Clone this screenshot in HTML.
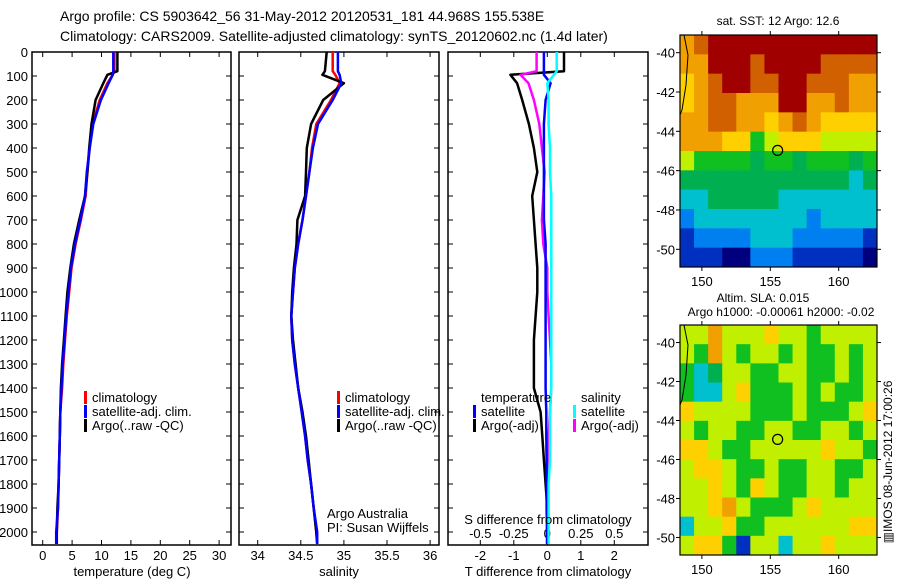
<!DOCTYPE html>
<html><head><meta charset="utf-8"><style>
body{margin:0;background:#fff}
svg{display:block;font-family:"Liberation Sans",sans-serif}
</style></head><body>
<svg id="c" width="900" height="580" xmlns="http://www.w3.org/2000/svg">
<text x="60" y="21" font-size="14">Argo profile: CS 5903642_56 31-May-2012 20120531_181 44.968S 155.538E</text>
<text x="60" y="41" font-size="14">Climatology: CARS2009. Satellite-adjusted climatology: synTS_20120602.nc (1.4d later)</text>
<g id="g"></g>
</svg>
<script>
// ---- data ----
const depthTicks=[0,100,200,300,400,500,600,700,800,900,1000,1100,1200,1300,1400,1500,1600,1700,1800,1900,2000];
const tTicks=[0,5,10,15,20,25,30];
const sTicks=[34,34.5,35,35.5,36];
const dTTicks=[-2,-1,0,1,2];
const dSTicks=[-0.5,-0.25,0,0.25,0.5];
const dSTickLabels=["-0.5","-0.25","0","0.25","0.5"];
const depths=[0,80,95,130,200,300,400,500,600,700,800,900,1000,1100,1200,1300,1400,1500,1600,1700,1800,1900,2000,2050];
const tempArgo=[12.7,12.7,11,10.3,9,8.3,7.9,7.6,7.2,6.2,5.3,4.7,4.2,3.9,3.6,3.3,3.1,3.0,2.9,2.8,2.7,2.5,2.4,2.4];
const tempClim=[12.2,12.2,11.9,11,9.7,8.5,8,7.6,7.3,6.5,5.6,4.9,4.5,4.1,3.8,3.5,3.3,3.0,2.9,2.8,2.7,2.6,2.4,2.3];
const tempSat=[12.0,12.0,11.9,11.2,9.9,8.6,8,7.5,7.2,6.4,5.5,4.8,4.4,4.0,3.7,3.4,3.2,3.0,2.9,2.8,2.7,2.6,2.3,2.3];
const salArgo=[34.80,34.78,34.75,35.0,34.76,34.62,34.57,34.56,34.55,34.46,34.45,34.42,34.40,34.39,34.41,34.44,34.47,34.52,34.56,34.59,34.62,34.65,34.68,34.69];
const salClim=[34.87,34.87,34.90,34.95,34.85,34.68,34.63,34.60,34.56,34.52,34.47,34.43,34.41,34.39,34.40,34.43,34.47,34.51,34.55,34.58,34.62,34.65,34.68,34.69];
const salSat=[34.93,34.93,34.95,34.97,34.87,34.70,34.64,34.60,34.56,34.52,34.47,34.43,34.41,34.39,34.40,34.43,34.47,34.51,34.55,34.58,34.62,34.65,34.69,34.69];
const dTArgo=[0.5,0.5,-1.1,-0.9,-0.75,-0.55,-0.4,-0.3,-0.45,-0.4,-0.35,-0.3,-0.3,-0.35,-0.4,-0.4,-0.4,-0.2,-0.15,-0.1,-0.05,0,0,0];
const dTSat=[-0.1,-0.1,-0.1,0.1,-0.05,-0.1,-0.1,-0.1,-0.1,-0.1,-0.05,-0.05,-0.05,-0.05,-0.05,-0.05,-0.05,-0.03,-0.03,-0.02,-0.02,-0.02,-0.01,-0.01];
const dSArgo=[-0.08,-0.08,-0.2,-0.14,-0.1,-0.06,-0.04,-0.02,-0.03,-0.04,-0.03,0,0,0.01,0.02,0.03,0.03,0.02,0.01,0.01,0,0,0,0];
const dSSat=[0.07,0.07,0.05,0.0,0.01,0.01,0.02,0.02,0.03,0.03,0.03,0.03,0.03,0.03,0.03,0.03,0.03,0.02,0.02,0.02,0.01,0.01,0.01,0.01];
const lonTicks=[150,155,160];
const latTicks=[-40,-42,-44,-46,-48,-50];
const sstGrid=[
[8,9,10,10,10,10,10,10,10,10,10,10,10,10],
[8,8,10,10,10,9,10,10,10,10,9,9,9,9],
[7,8,9,10,10,9,9,10,10,9,9,9,8,8],
[7,8,9,9,8,8,8,10,10,8,8,9,8,8],
[8,8,9,9,8,8,7,8,9,8,7,7,7,7],
[8,8,8,7,7,5,6,7,7,7,6,6,6,6],
[6,5,5,5,5,4,5,5,4,5,5,5,4,5],
[4,4,4,4,4,4,4,4,4,4,4,4,3,4],
[3,3,4,4,4,4,4,3,3,3,3,3,3,3],
[2,3,3,3,3,3,3,3,3,2,3,3,3,3],
[1,2,2,2,2,3,3,3,2,2,2,2,2,1],
[1,1,1,0,0,2,2,2,1,1,1,1,1,0]];
const slaGrid=[
[6,6,8,6,6,6,7,6,6,5,6,6,6,6],
[6,5,8,6,5,6,6,5,6,5,5,6,5,6],
[5,3,4,6,6,5,5,6,6,5,5,6,5,6],
[5,3,3,6,7,5,5,5,6,5,6,5,5,6],
[7,6,6,6,6,5,5,5,6,5,5,5,6,7],
[6,5,6,6,5,5,6,6,5,5,6,6,5,6],
[7,7,6,5,5,6,6,6,6,6,7,6,6,5],
[6,7,7,6,5,5,6,5,5,6,6,5,5,6],
[6,6,7,6,5,7,6,5,5,6,6,5,6,6],
[6,6,7,8,6,5,5,5,6,7,6,6,6,6],
[3,6,6,7,5,5,6,6,6,6,6,6,7,7],
[6,7,7,5,1,6,6,3,6,6,7,6,6,6]];
const palette=["#00007f","#0030c0","#0080f0","#00c0d0","#00b050","#10c020","#c0f000","#ffd000","#f0a000","#d06000","#a00000"];

// ---- drawing ----
const NS="http://www.w3.org/2000/svg";const G=document.getElementById('g');
function mk(t,a,p){const e=document.createElementNS(NS,t);for(const k in a)e.setAttribute(k,a[k]);(p||G).appendChild(e);return e;}
const yD=d=>52+d*0.24;
const panels=[
 {x0:32,x1:231,xs:v=>42.7+v*5.88,name:'temperature'},
 {x0:239,x1:439,xs:v=>257.7+(v-34)*86.2,name:'salinity'},
 {x0:448,x1:648,xs:v=>547.3+v*33.5,name:'difference'}];
const xS=v=>547.3+v*134;
panels.forEach((p,i)=>{
 const r=mk('rect',{x:p.x0,y:52,width:p.x1-p.x0,height:493,fill:'none',stroke:'#000','stroke-width':1.5});
 
 
 depthTicks.forEach(d=>{
  mk('line',{x1:p.x0,x2:p.x0+5,y1:yD(d),y2:yD(d),stroke:'#000'});
  mk('line',{x1:p.x1,x2:p.x1-5,y1:yD(d),y2:yD(d),stroke:'#000'});
 });
});
depthTicks.forEach(d=>{const t=mk('text',{x:28,y:yD(d)+5,'font-size':13,'text-anchor':'end'});t.textContent=d;
 
 });
function xticks(p,vals,labels,f,y,top){vals.forEach((v,i)=>{const x=f(v);
 mk('line',{x1:x,x2:x,y1:545,y2:540,stroke:'#000'});if(top)mk('line',{x1:x,x2:x,y1:52,y2:57,stroke:'#000'});
 const t=mk('text',{x:x,y:y,'font-size':13,'text-anchor':'middle'});t.textContent=labels[i];
 
 });}
xticks(panels[0],tTicks,tTicks,panels[0].xs,560,true);
xticks(panels[1],sTicks,sTicks,panels[1].xs,560,true);
xticks(panels[2],dTTicks,dTTicks,panels[2].xs,560,true);
dSTicks.forEach((v,i)=>{const t=mk('text',{x:xS(v),y:538,'font-size':13,'text-anchor':'middle'});t.textContent=dSTickLabels[i];
 
 });
function line(vals,f,col,name){const pts=depths.map((d,i)=>f(vals[i]).toFixed(1)+','+yD(d).toFixed(1)).join(' ');
 const l=mk('polyline',{points:pts,fill:'none',stroke:col,'stroke-width':2.5,'stroke-linejoin':'round'});
 
 }
line(tempClim,panels[0].xs,'#f00','temp-climatology-line');
line(tempArgo,panels[0].xs,'#000','temp-argo-line');
line(tempSat,panels[0].xs,'#00f','temp-satellite-line');
line(salClim,panels[1].xs,'#f00','sal-climatology-line');
line(salArgo,panels[1].xs,'#000','sal-argo-line');
line(salSat,panels[1].xs,'#00f','sal-satellite-line');
line(dTArgo,panels[2].xs,'#000','tdiff-argo-line');
line(dSArgo,xS,'#f0f','sdiff-argo-line');
line(dTSat,panels[2].xs,'#00f','tdiff-satellite-line');
line(dSSat,xS,'#0ff','sdiff-satellite-line');
function txt(x,y,s,size,name,anchor){const t=mk('text',{x:x,y:y,'font-size':size||13,'text-anchor':anchor||'start'});t.textContent=s;
 
 return t;}
function leg(x,y,col,s,name){mk('rect',{x:x,y:y-11,width:3,height:13,fill:col});txt(x+8,y,s,13,name);}
[[84,'legend'],[337,'legend2']].forEach(([x,n])=>{
 leg(x,402,'#f00','climatology',n+'-climatology');
 leg(x,416,'#00f','satellite-adj. clim.',n+'-satellite');
 leg(x,430,'#000','Argo(..raw -QC)',n+'-argo');});
txt(327,518,'Argo Australia',13,'credit-argo-australia');
txt(327,532,'PI: Susan Wijffels',13,'credit-pi');
txt(481,402,'temperature',13,'legend-temperature-header');
txt(581,402,'salinity',13,'legend-salinity-header');
leg(473,416,'#00f','satellite','legend-tdiff-satellite');
leg(473,430,'#000','Argo(-adj)','legend-tdiff-argo');
leg(573,416,'#0ff','satellite','legend-sdiff-satellite');
leg(573,430,'#f0f','Argo(-adj)','legend-sdiff-argo');
txt(548,524,'S difference from climatology',13,'s-diff-axis-title','middle');
txt(132,576,'temperature (deg C)',13,'x-axis-title-temperature','middle');
txt(339,576,'salinity',13,'x-axis-title-salinity','middle');
txt(548,576,'T difference from climatology',13,'x-axis-title-tdiff','middle');
// maps
function map(grid,top,bot,name){const x0=680,x1=877,lon0=148.4,lon1=162.8,lat0=-39.1,lat1=-50.9;
 const fx=l=>x0+(l-lon0)/(lon1-lon0)*(x1-x0),fy=l=>top+(l-lat0)/(lat1-lat0)*(bot-top);
 const nr=grid.length,nc=grid[0].length,cw=(x1-x0)/nc,ch=(bot-top)/nr;
 grid.forEach((row,r)=>row.forEach((v,c)=>{const e=mk('rect',{x:x0+c*cw,y:top+r*ch,width:cw+0.5,height:ch+0.5,fill:palette[v]});
  
  }));
 const f=mk('rect',{x:x0,y:top,width:x1-x0,height:bot-top,fill:'none',stroke:'#000','stroke-width':1.2});
 
 
 mk('path',{d:`M${x0+4},${top} L${x0+8},${top+20} L${x0+6},${top+50} L${x0+2},${top+75} L${x0},${top+80}`,fill:'none',stroke:'#000'});
 const pc=mk('circle',{cx:fx(155.538),cy:fy(-44.968),r:5,fill:'none',stroke:'#000','stroke-width':1.2});
 
 
 lonTicks.forEach(l=>{mk('line',{x1:fx(l),x2:fx(l),y1:top,y2:top-4,stroke:'#000'});mk('line',{x1:fx(l),x2:fx(l),y1:bot,y2:bot+4,stroke:'#000'});
  txt(fx(l),bot+19,l,13,name+'-lon-label','middle');});
 latTicks.forEach(l=>{mk('line',{x1:x0,x2:x0-4,y1:fy(l),y2:fy(l),stroke:'#000'});mk('line',{x1:x1,x2:x1+4,y1:fy(l),y2:fy(l),stroke:'#000'});
  txt(x0-5,fy(l)+5,l,13,name+'-lat-label','end');});}
map(sstGrid,35,267,'sst-map');
map(slaGrid,325,555,'sla-map');
txt(778,25,'sat. SST: 12 Argo: 12.6',12,'sst-map-title','middle');
txt(763,302,'Altim. SLA: 0.015',12,'sla-map-title','middle');
txt(781,316,'Argo h1000: -0.00061 h2000: -0.02',12,'sla-map-subtitle','middle');
const st=txt(0,0,'\u25A5IMOS 08-Jun-2012 17:00:26',12,'timestamp-label','middle');
st.setAttribute('transform','translate(892,462) rotate(-90)');
</script>
</body></html>
